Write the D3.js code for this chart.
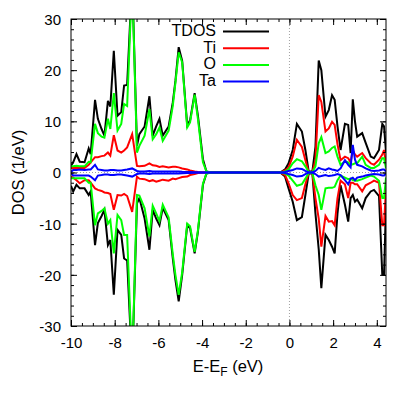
<!DOCTYPE html>
<html>
<head>
<meta charset="utf-8">
<script src="https://cdn.jsdelivr.net/npm/d3@7"></script>
<style>
body { margin: 0; background: #fff; }
text { font-family: "Liberation Sans", Arial, sans-serif; }
</style>
</head>
<body>
<script>
// energy grid (eV, relative to E_F)
var energy = [-10.0, -9.9, -9.75, -9.6, -9.38, -9.19, -9.1, -8.9, -8.77, -8.6,
  -8.47, -8.31, -8.2, -8.04, -7.87, -7.7, -7.57, -7.43, -7.2, -6.98,
  -6.87, -6.63, -6.41, -6.26, -6.1, -5.95, -5.8, -5.53, -5.34, -5.22,
  -5.07, -4.91, -4.68, -4.55, -4.34, -4.19, -3.96, -3.8, -3.6, -2.0,
  -0.6, -0.42, -0.2, -0.04, 0.15, 0.34, 0.57, 0.73, 0.88, 1.05,
  1.19, 1.34, 1.46, 1.65, 1.8, 1.95, 2.07, 2.2, 2.34, 2.54,
  2.69, 2.8, 2.9, 3.0, 3.1, 3.33, 3.49, 3.72, 3.87, 4.1,
  4.25, 4.33, 4.42];

// spin up / spin down DOS (1/eV)
var tdosUp = [1.3, 2.0, 3.6, 2.1, 2.0, 4.7, 3.6, 14.2, 10.5, 8.5,
  7.2, 14.0, 12.9, 23.8, 11.1, 11.8, 17.0, 17.1, 38, 5.2,
  7.5, 9.0, 14.9, 7.2, 9.0, 10.5, 7.2, 9.0, 13.7, 17.9,
  24.5, 21.8, 9.2, 10.2, 15.5, 11.1, 2.6, 0.2, 0, 0,
  0, 0, 0.6, 1.8, 4.4, 9.5, 8.0, 4.4, 0.2, 0.2,
  5.0, 21.9, 20.0, 10.9, 12.2, 15.1, 14.2, 9.0, 4.4, 9.5,
  9.3, 3.8, 14.3, 10.0, 7.0, 7.7, 5.8, 3.1, 2.8, 4.4,
  9.5, 9.0, 4.0];
var tdosDn = [-2.6, -3.7, -2.4, -3.1, -3.1, -4.4, -3.7, -14.2, -9.9, -8.5,
  -7.3, -14.2, -13.2, -23.9, -11.2, -12.2, -16.8, -17.2, -38, -6.0,
  -5.0, -9.0, -15.1, -7.3, -9.0, -10.3, -6.9, -9.3, -16.8, -21.0,
  -25.2, -20.0, -10.3, -10.9, -15.8, -11.6, -2.4, -0.2, 0, 0,
  0, 0, -0.8, -3.1, -5.7, -9.3, -8.7, -4.4, -0.2, -0.2,
  -8.0, -15.0, -22.6, -12.2, -13.2, -14.5, -15.8, -8.0, -2.5, -6.3,
  -9.6, -5.0, -4.4, -5.7, -5.3, -7.0, -5.0, -3.7, -3.4, -4.6,
  -20.0, -20.0, -6.0];

var tiUp = [0.9, 0.9, 0.9, 0.9, 0.9, 1.5, 2.0, 3.0, 3.0, 3.2,
  3.3, 3.9, 3.3, 7.3, 4.3, 3.9, 4.3, 4.9, 7.5, 1.3,
  1.2, 1.3, 1.8, 1.4, 1.3, 1.1, 1.2, 1.0, 1.1, 1.1,
  1.0, 0.8, 0.6, 0.4, 0.2, 0.1, 0, 0, 0, 0,
  0, 0, 0.4, 1.0, 3.1, 6.4, 5.0, 2.4, 0.1, 0.1,
  2.4, 15.1, 13.8, 8.0, 8.6, 9.9, 9.3, 5.5, 2.4, 3.1,
  2.8, 2.0, 4.4, 3.5, 3.1, 3.8, 2.8, 1.8, 1.5, 2.5,
  3.5, 4.4, 1.5];
var tiDn = [-0.8, -1.0, -1.5, -2.1, -1.5, -1.5, -2.0, -3.1, -3.4, -3.6,
  -3.9, -4.0, -4.2, -7.3, -4.4, -4.5, -4.2, -4.6, -7.7, -0.8,
  -1.2, -1.3, -1.7, -1.5, -1.8, -1.6, -1.4, -1.6, -1.2, -1.3,
  -1.1, -0.9, -0.8, -0.5, -0.3, -0.1, 0, 0, 0, 0,
  0, 0, -0.5, -2.1, -4.4, -5.4, -5.0, -2.3, -0.1, -0.1,
  -5.0, -9.0, -14.5, -8.5, -9.6, -9.5, -10.3, -5.0, -1.6, -2.3,
  -5.0, -2.0, -2.0, -2.3, -2.3, -3.7, -2.5, -2.0, -1.6, -2.0,
  -10.3, -10.3, -3.0];

var oUp = [1.2, 1.2, 1.3, 1.2, 1.2, 2.1, 2.0, 9.5, 7.7, 7.0,
  6.8, 10.5, 8.5, 15.5, 8.2, 9.5, 13.4, 13.0, 38, 3.9,
  5.2, 7.2, 12.4, 6.5, 7.5, 8.8, 6.2, 8.2, 13.0, 17.5,
  23.5, 21.5, 8.8, 9.8, 15.2, 10.5, 2.0, 0.2, 0, 0,
  0, 0, 0.2, 0.6, 1.8, 2.6, 2.2, 1.2, 0.1, 0.1,
  1.2, 5.7, 6.9, 3.8, 4.1, 4.8, 5.1, 3.1, 1.5, 2.2,
  2.0, 1.5, 1.6, 1.8, 1.8, 3.1, 1.5, 0.9, 0.9, 1.5,
  2.8, 2.8, 0.8];
var oDn = [-1.1, -1.1, -1.1, -1.1, -1.1, -2.0, -2.0, -10.3, -8.0, -7.5,
  -7.0, -10.0, -9.3, -15.8, -8.3, -9.3, -12.2, -12.2, -38, -4.4,
  -4.5, -7.0, -12.5, -6.5, -8.0, -9.5, -6.3, -8.8, -16.0, -20.0,
  -23.9, -19.5, -10.0, -10.5, -15.5, -11.3, -2.2, -0.2, 0, 0,
  0, 0, -0.2, -0.6, -1.6, -2.6, -2.3, -1.2, -0.1, -0.1,
  -2.5, -4.4, -7.3, -3.1, -3.0, -3.0, -2.8, -1.5, -0.6, -1.0,
  -1.3, -1.2, -1.5, -1.6, -1.6, -1.3, -1.0, -0.6, -0.8, -1.6,
  -5.0, -5.0, -1.0];

var taUp = [0.1, 0.5, 0.5, 0.6, 0.5, 0.6, 0.6, 1.5, 0.6, 0.5,
  0.4, 0.4, 0.5, 0.5, 0.4, 0.4, 0.5, 0.6, 0.8, 0.3,
  0.2, 0.2, 0.3, 0.2, 0.2, 0.2, 0.2, 0.2, 0.2, 0.2,
  0.2, 0.15, 0.1, 0.1, 0.05, 0, 0, 0, 0, 0,
  0, 0, 0.1, 0.3, 0.5, 0.8, 0.7, 0.3, 0, 0,
  0.3, 0.9, 0.7, 0.5, 0.8, 0.6, 0.5, 0.3, 0.8, 2.4,
  1.5, 1.0, 5.4, 2.5, 1.5, 1.2, 0.8, 0.4, 0.3, 0.4,
  0.6, 0.6, 0.2];
var taDn = [-0.1, -0.6, -0.6, -0.6, -0.6, -0.6, -0.8, -1.5, -0.6, -0.5,
  -0.4, -0.4, -0.5, -0.5, -0.4, -0.4, -0.5, -0.6, -0.8, -0.3,
  -0.2, -0.2, -0.3, -0.2, -0.2, -0.2, -0.2, -0.2, -0.2, -0.2,
  -0.2, -0.15, -0.1, -0.1, -0.05, 0, 0, 0, 0, 0,
  0, 0, -0.1, -0.3, -0.5, -0.8, -0.7, -0.3, 0, 0,
  -0.3, -0.8, -0.7, -0.5, -0.7, -0.6, -0.5, -0.3, -0.5, -1.5,
  -2.3, -1.2, -1.0, -1.5, -1.0, -0.8, -0.6, -0.4, -0.3, -0.4,
  -0.6, -0.6, -0.2];

var seriesNames = ["TDOS", "Ti", "O", "Ta"];
var seriesColors = ["#000000", "#ff0000", "#00ff00", "#0000ff"];
var seriesUp = [tdosUp, tiUp, oUp, taUp];
var seriesDn = [tdosDn, tiDn, oDn, taDn];

var xTicks = [-10, -8, -6, -4, -2, 0, 2, 4];
var yTicks = [-30, -20, -10, 0, 10, 20, 30];

var svgWidth = 415;
var svgHeight = 396;
var margin = {top: 19, right: 29, bottom: 70, left: 71};
var width = svgWidth - margin.left - margin.right;
var height = svgHeight - margin.top - margin.bottom;

var svg = d3.select("body")
  .append("svg")
  .attr("width", svgWidth)
  .attr("height", svgHeight);

var chartGroup = svg.append("g")
  .attr("transform", `translate(${margin.left}, ${margin.top})`);

var x = d3.scaleLinear().domain([-10, 4.42]).range([0, width]);
var y = d3.scaleLinear().domain([-30, 30]).range([height, 0]);

svg.append("clipPath").attr("id", "plotclip")
  .append("rect").attr("width", width).attr("height", height);

// zero lines
chartGroup.append("line")
  .attr("x1", x(0)).attr("x2", x(0)).attr("y1", 0).attr("y2", height)
  .attr("stroke", "#a0a0a0").attr("stroke-width", 1).attr("stroke-dasharray", "1,2");
chartGroup.append("line")
  .attr("x1", 0).attr("x2", width).attr("y1", y(0)).attr("y2", y(0))
  .attr("stroke", "#a0a0a0").attr("stroke-width", 1).attr("stroke-dasharray", "1,2");

var line = d3.line()
  .x(function(d, i) { return x(energy[i]); })
  .y(function(d) { return y(d); });

var curves = chartGroup.append("g").attr("clip-path", "url(#plotclip)");
seriesNames.forEach(function(name, k) {
  [seriesUp[k], seriesDn[k]].forEach(function(vals) {
    curves.append("path")
      .datum(vals)
      .attr("d", line)
      .attr("fill", "none")
      .attr("stroke", seriesColors[k])
      .attr("stroke-width", 2)
      .attr("stroke-linejoin", "miter");
  });
});

// axes, ticks inward on all sides
var xMinor = d3.range(-10, 4.5, 0.5);
var yMinor = d3.range(-30, 31, 2);

function tickAxis(axisFn, scale, vals, size) {
  return axisFn(scale).tickValues(vals).tickSize(-size).tickFormat("");
}
chartGroup.append("g").attr("transform", `translate(0,${height})`)
  .call(tickAxis(d3.axisBottom, x, xMinor, 3));
chartGroup.append("g")
  .call(tickAxis(d3.axisTop, x, xMinor, 3));
chartGroup.append("g")
  .call(tickAxis(d3.axisLeft, y, yMinor, 3));
chartGroup.append("g").attr("transform", `translate(${width},0)`)
  .call(tickAxis(d3.axisRight, y, yMinor, 3));

var bottomAxis = d3.axisBottom(x).tickValues(xTicks).tickSize(-6).tickPadding(0)
  .tickFormat(function(d) { return String(d); });
var leftAxis = d3.axisLeft(y).tickValues(yTicks).tickSize(-6).tickPadding(0)
  .tickFormat(function(d) { return String(d); });

chartGroup.append("g").attr("class", "xaxis")
  .attr("transform", `translate(0,${height})`)
  .call(bottomAxis);
chartGroup.append("g").call(tickAxis(d3.axisTop, x, xTicks, 6));
chartGroup.append("g").attr("class", "yaxis").call(leftAxis);
chartGroup.append("g").attr("transform", `translate(${width},0)`)
  .call(tickAxis(d3.axisRight, y, yTicks, 6));

chartGroup.selectAll(".domain").remove();
chartGroup.selectAll(".tick line").attr("stroke", "#000");

chartGroup.select(".xaxis").selectAll("text")
  .attr("y", 22).attr("dy", null)
  .attr("font-size", 15).attr("fill", "#000");
chartGroup.select(".yaxis").selectAll("text")
  .attr("x", -10).attr("dy", "0.36em")
  .attr("font-size", 15).attr("fill", "#000");

// frame
chartGroup.append("rect")
  .attr("width", width).attr("height", height)
  .attr("fill", "none").attr("stroke", "#000").attr("stroke-width", 1);

// legend
var legend = chartGroup.append("g");
seriesNames.forEach(function(name, k) {
  var base = 17 + k * 16.7;
  legend.append("text")
    .attr("x", 216 - margin.left).attr("y", base)
    .attr("text-anchor", "end")
    .attr("font-size", 16)
    .text(name);
  legend.append("line")
    .attr("x1", 223 - margin.left).attr("x2", 269 - margin.left)
    .attr("y1", base - 4.5).attr("y2", base - 4.5)
    .attr("stroke", seriesColors[k]).attr("stroke-width", 2);
});

// axis titles
svg.append("text")
  .attr("transform", `translate(24, ${margin.top + height / 2}) rotate(-90)`)
  .attr("text-anchor", "middle")
  .attr("font-size", 16.5)
  .text("DOS (1/eV)");

var xt = svg.append("text")
  .attr("x", 228).attr("y", 372)
  .attr("text-anchor", "middle")
  .attr("font-size", 16.5);
xt.append("tspan").text("E-E");
xt.append("tspan").attr("font-size", 12).attr("dy", 4).text("F");
xt.append("tspan").attr("dy", -4).text(" (eV)");
</script>
</body>
</html>
